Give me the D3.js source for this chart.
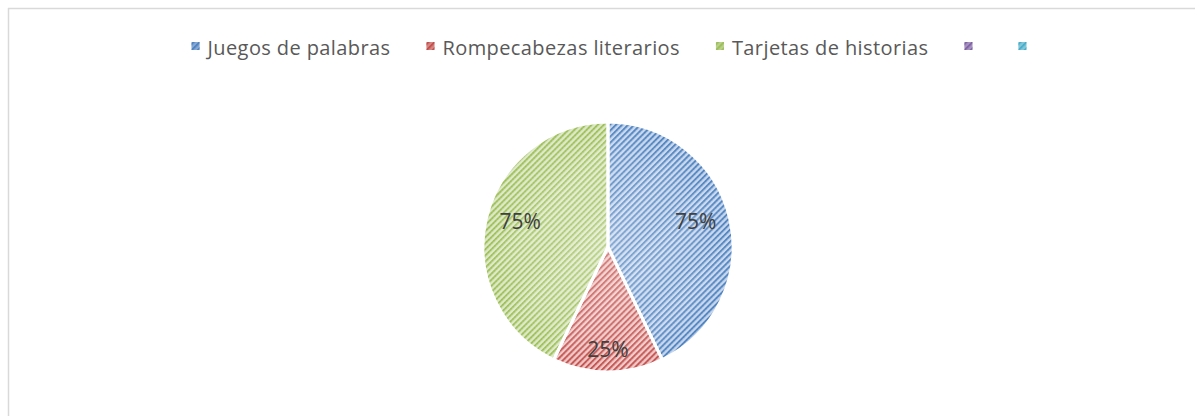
<!DOCTYPE html>
<html>
<head>
<meta charset="utf-8">
<script src="https://cdn.jsdelivr.net/npm/d3@7"></script>
<style>
  body { margin: 0; background: #fff; }
  svg { display: block; }
</style>
</head>
<body>
<div id="chart"></div>
<script>
// Chart data
var categories = ["Juegos de palabras", "Rompecabezas literarios", "Tarjetas de historias", "", ""];
var values = [0.75, 0.25, 0.75];
var baseColors = ["#4F81BD", "#C0504D", "#9BBB59", "#8064A2", "#4BACC6"];
var lightColors = ["#C9D7EC", "#EDC9C8", "#DDE9C8", "#D6CCE3", "#C8E6EE"];

var svgWidth = 1195;
var svgHeight = 416;

var svg = d3.select("#chart")
    .append("svg")
    .attr("width", svgWidth)
    .attr("height", svgHeight);

// Chart area border (runs past the right and bottom edges)
svg.append("rect")
    .attr("x", 8.5)
    .attr("y", 8.5)
    .attr("width", svgWidth + 20)
    .attr("height", svgHeight + 20)
    .attr("fill", "#fff")
    .attr("stroke", "#D9D9D9")
    .attr("stroke-width", 1.5);

var defs = svg.append("defs");

// Striped pattern for each colour
baseColors.forEach(function(c, i) {
    var p = defs.append("pattern")
        .attr("id", "stripe" + i)
        .attr("patternUnits", "userSpaceOnUse")
        .attr("width", 4.3)
        .attr("height", 3)
        .attr("patternTransform", "rotate(45)");
    p.append("rect")
        .attr("width", 4.3)
        .attr("height", 3)
        .attr("fill", lightColors[i]);
    p.append("rect")
        .attr("x", 0)
        .attr("y", 0)
        .attr("width", 1.9)
        .attr("height", 3)
        .attr("fill", d3.color(c).brighter(0.25));
    p.append("rect")
        .attr("x", 0)
        .attr("y", 0.3)
        .attr("width", 1.9)
        .attr("height", 1.9)
        .attr("fill", c);
});

// Soft highlight towards the centre of the pie
var cx = 608, cy = 247, radius = 125;

var grad = defs.append("radialGradient")
    .attr("id", "soft")
    .attr("gradientUnits", "userSpaceOnUse")
    .attr("cx", 0)
    .attr("cy", 0)
    .attr("r", radius);
grad.append("stop").attr("offset", "0%").attr("stop-color", "#fff").attr("stop-opacity", 0.3);
grad.append("stop").attr("offset", "70%").attr("stop-color", "#fff").attr("stop-opacity", 0.15);
grad.append("stop").attr("offset", "100%").attr("stop-color", "#fff").attr("stop-opacity", 0);

// Pie
var pie = d3.pie().sort(null).value(d => d);
var arc = d3.arc().innerRadius(0).outerRadius(radius);

var pieGroup = svg.append("g")
    .attr("transform", `translate(${cx}, ${cy})`);

var slices = pie(values);

pieGroup.selectAll("path.slice")
    .data(slices)
    .enter()
    .append("path")
    .attr("class", "slice")
    .attr("d", arc)
    .attr("fill", (d, i) => `url(#stripe${i})`);

pieGroup.selectAll("path.soft")
    .data(slices)
    .enter()
    .append("path")
    .attr("class", "soft")
    .attr("d", arc)
    .attr("fill", "url(#soft)");

// White borders between slices
pieGroup.selectAll("path.edge")
    .data(slices)
    .enter()
    .append("path")
    .attr("class", "edge")
    .attr("d", arc)
    .attr("fill", "none")
    .attr("stroke", "#fff")
    .attr("stroke-width", 3)
    .attr("stroke-linejoin", "round");

// Data labels
function labelPos(d) {
    var small = (d.endAngle - d.startAngle) < 1.2;
    var r = small ? radius * 0.82 : radius * 0.72;
    var c = d3.arc().innerRadius(r).outerRadius(r).centroid(d);
    if (!small) c[1] -= 6;
    return c;
}

pieGroup.selectAll("text.label")
    .data(slices)
    .enter()
    .append("text")
    .attr("class", "label")
    .attr("transform", d => `translate(${labelPos(d)})`)
    .attr("dy", "0.36em")
    .style("text-anchor", "middle")
    .style("font-family", "'Open Sans', sans-serif")
    .style("font-size", "21px")
    .style("fill", "#404040")
    .text(d => d3.format(".0%")(d.data));

// Legend
var legend = svg.append("g");
var xPos = 0;
categories.forEach(function(name, i) {
    var g = legend.append("g");
    g.append("rect")
        .attr("x", 0)
        .attr("y", -13)
        .attr("width", 8)
        .attr("height", 8)
        .attr("fill", `url(#stripe${i})`);
    g.append("rect")
        .attr("x", 0)
        .attr("y", -13)
        .attr("width", 8)
        .attr("height", 8)
        .attr("fill", baseColors[i])
        .attr("opacity", 0.55);
    var t = g.append("text")
        .attr("x", 16)
        .attr("y", 0)
        .style("font-family", "'Open Sans', sans-serif")
        .style("font-size", "20px")
        .style("letter-spacing", "0.4px")
        .style("fill", "#595959")
        .text(name);
    var w = name ? 16 + t.node().getComputedTextLength() : 18;
    g.attr("transform", `translate(${xPos}, 0)`);
    xPos += w + 36;
});
var total = xPos - 36 - 18 + 8;
legend.attr("transform", `translate(${609 - total / 2}, 55)`);
</script>
</body>
</html>
